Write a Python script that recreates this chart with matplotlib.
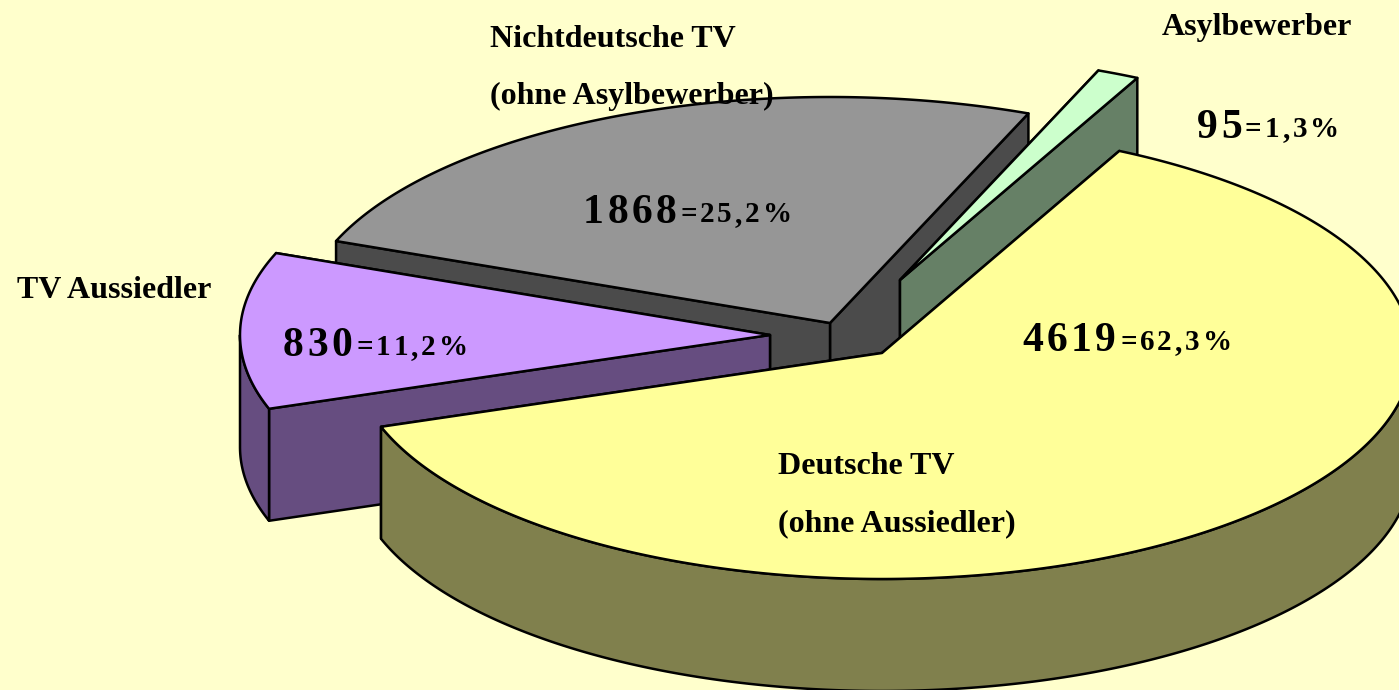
import numpy as np
import matplotlib
matplotlib.use("Agg")
import matplotlib.pyplot as plt
from matplotlib.patches import Polygon
from matplotlib.text import Text

# --- data, in pie order (clockwise from the start angle) ---
categories = ["Deutsche TV", "TV Aussiedler", "Nichtdeutsche TV", "Asylbewerber"]
values = [4619, 830, 1868, 95]
percent_labels = ["=62,3%", "=11,2%", "=25,2%", "=1,3%"]

# --- styling / layout ---
W, H = 1399, 690
BG = "#FFFFCC"
top_colors = ["#FFFF99", "#CC99FF", "#969696", "#CCFFCC"]
side_colors = ["#80804D", "#664D80", "#4B4B4B", "#668066"]
apex = [(882, 353), (770, 335), (830, 323), (900, 280)]
draw_order = [2, 3, 1, 0]
RX, RY, DEPTH = 530, 226, 112
START = 63.4
LW = 1.8
FONT = "Liberation Serif"
value_pos = [(1022, 351), (283, 356), (583, 223), (1197, 138)]
pct_pos = [(1120, 350), (356, 355), (680, 222), (1245, 137)]
name_labels = [
    ("Nichtdeutsche TV", 490, 47),
    ("(ohne Asylbewerber)", 490, 104),
    ("Asylbewerber", 1162, 35),
    ("TV Aussiedler", 17, 298),
    ("Deutsche TV", 778, 474),
    ("(ohne Aussiedler)", 778, 531),
]


class SpacedText(Text):
    """One text artist drawn with letter spacing (axes units are pixels)."""

    def __init__(self, *args, spacing=0.0, **kwargs):
        super().__init__(*args, **kwargs)
        self._spacing = spacing

    def draw(self, renderer):
        full = self.get_text()
        x0 = self.get_position()[0]
        fp = self.get_fontproperties()
        measure = lambda s: renderer.get_text_width_height_descent(s, fp, False)[0]
        base = measure("xx")
        x = x0
        for ch in full:
            self.set_text(ch)
            self.set_x(x)
            super().draw(renderer)
            x += measure("x" + ch + "x") - base + self._spacing
        self.set_text(full)
        self.set_x(x0)


fig = plt.figure(figsize=(W / 100, H / 100), dpi=100, facecolor=BG)
ax = fig.add_axes([0, 0, 1, 1])
ax.set_xlim(0, W)
ax.set_ylim(H, 0)
ax.axis("off")

# Slice boundaries from the values (elliptic parameter angle, clockwise)
fractions = np.array(values, dtype=float) / np.sum(values)
edges = START - np.concatenate([[0], np.cumsum(fractions)]) * 360.0


def arc(center, t0, t1):
    t = np.radians(np.linspace(t0, t1, max(2, int(abs(t1 - t0) * 2) + 2)))
    return np.column_stack([center[0] + RX * np.cos(t), center[1] - RY * np.sin(t)])


def add(points, color, z):
    ax.add_patch(Polygon(points, closed=True, facecolor=color, edgecolor="black",
                         linewidth=LW, joinstyle="round", zorder=z))


z = 1
for i in draw_order:
    t0, t1 = edges[i], edges[i + 1]
    c = np.array(apex[i], dtype=float)
    rim = arc(c, t0, t1)
    down = np.array([0, DEPTH])
    # two cut faces, the one further back first
    for p in sorted((rim[0], rim[-1]), key=lambda q: q[1]):
        add(np.array([c, p, p + down, c + down]), side_colors[i], z)
        z += 1
    # outer wall: only the part of the rim facing the viewer (sin t < 0)
    for k in (-360, 0, 360):
        f0, f1 = max(t1, -180 + k), min(t0, 0 + k)
        if f1 > f0:
            front = arc(c, f0, f1)
            add(np.vstack([front, (front + down)[::-1]]), side_colors[i], z)
            z += 1
    add(np.vstack([c, rim]), top_colors[i], z)
    z += 1

z = 100
for text, x, y in name_labels:
    ax.text(x, y, text, fontsize=23, fontweight="bold", family=FONT,
            color="black", ha="left", va="baseline", zorder=z)

for i in range(len(values)):
    for s, (x, y), size, gap in (
        (str(values[i]), value_pos[i], 30, 3.5),
        (percent_labels[i], pct_pos[i], 21, 3.0),
    ):
        t = SpacedText(x, y, s, spacing=gap, fontsize=size, fontweight="bold",
                       family=FONT, color="black", ha="left", va="baseline", zorder=z)
        ax.add_artist(t)

fig.savefig("out.png", dpi=100, facecolor=BG)
